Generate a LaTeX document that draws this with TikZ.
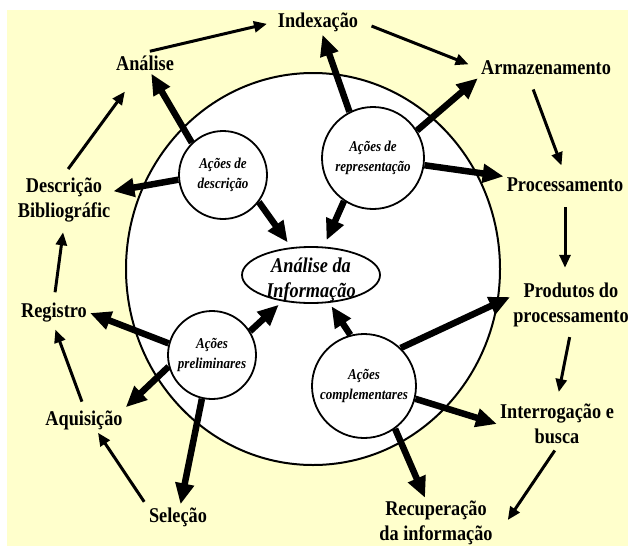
\documentclass[tikz,border=0pt]{standalone}
\usepackage{fontspec}
\setmainfont{Liberation Serif}
\newfontfamily\etiqfont[FakeStretch=0.87]{Liberation Serif}
\usetikzlibrary{arrows.meta,shapes.geometric}
\definecolor{fundo}{HTML}{FFFFCC}

\begin{document}
\begin{tikzpicture}[x=1pt,y=-1pt,
        etapa/.style={font=\etiqfont\bfseries\fontsize{21}{25}\selectfont, align=center, inner sep=3pt},
        acao/.style={circle, draw=black, line width=1.8pt, fill=white, minimum size=#1, inner sep=0pt,
                align=center, font=\etiqfont\bfseries\itshape\fontsize{15}{20}\selectfont},
        grossa/.style={line width=6.5pt, -{Triangle[length=21pt,width=18pt]}},
        fina/.style={line width=3pt, -{Triangle[length=13pt,width=11pt]}}]
        \useasboundingbox (0,0) rectangle (628,546);
        \fill[fundo] (7,10) rectangle (628,546);
        \draw[line width=2pt, fill=white] (313,269) ellipse [x radius=187, y radius=196];

        % etapas do ciclo
        \node[etapa] (index) at (318,22) {Indexação};
        \node[etapa] (analise) at (145,63) {Análise};
        \node[etapa] (armaz) at (546,68) {Armazenamento};
        \node[etapa] (process) at (565,185) {Processamento};
        \node[etapa] (produtos) at (571,305) {Produtos do\\processamento};
        \node[etapa] (interrog) at (557,424) {Interrogação e\\busca};
        \node[etapa] (recup) at (436,523) {Recuperação\\da informação};
        \node[etapa] (selecao) at (178,517) {Seleção};
        \node[etapa] (aquis) at (84,420) {Aquisição};
        \node[etapa] (registro) at (54,313) {Registro};
        \node[etapa] (descrbib) at (64,200) {Descrição\\Bibliográfic};

        % ações
        \node[acao=88pt] (descr) at (223,175) {Ações de\\descrição};
        \node[acao=102pt] (repres) at (373,158) {Ações de\\representação};
        \node[acao=88pt] (prelim) at (212,355) {Ações\\preliminares};
        \node[acao=104pt] (compl) at (364,386) {Ações\\complementares};
        \node[ellipse, draw=black, line width=1.8pt, fill=white, minimum width=138pt,
                minimum height=56pt, inner sep=0pt] (info) at (311,275) {};
        \node[font=\etiqfont\bfseries\itshape\fontsize{21}{25}\selectfont, align=center]
                (infotxt) at (311,280) {Análise da\\Informação};

        \draw[grossa] (descr.134) -- (analise);
        \draw[grossa] (descr.186) -- (descrbib);
        \draw[grossa, shorten >=6pt] (descr.-37) -- (info);
        \draw[grossa] (repres.117) -- (index);
        \draw[grossa] (repres.32) -- (armaz.south west);
        \draw[grossa] (repres.-8) -- (process);
        \draw[grossa, shorten >=7pt] (repres.236) -- (info);
        \draw[grossa] (prelim.165) -- (registro.east);
        \draw[grossa] (prelim.195) -- (aquis.north east);
        \draw[grossa] (prelim.257) -- (selecao);
        \draw[grossa, shorten >=5pt] (prelim.32) -- (info);
        \draw[grossa] (compl.46) -- ([yshift=8pt]produtos.west);
        \draw[grossa] (compl.-14) -- (interrog.west);
        \draw[grossa] (compl.-54) -- (recup);
        \draw[grossa, shorten >=4pt] (compl.105) -- (info);

        % ciclo
        \draw[fina, shorten <=5pt, shorten >=8pt] (analise.north) -- (index.west);
        \draw[fina, shorten <=11pt, shorten >=10pt] (index.east) -- (armaz.west);
        \draw[fina, shorten <=12pt, shorten >=10pt] ([xshift=-17pt]armaz.south) -- (process.north);
        \draw[fina, shorten <=12pt, shorten >=12pt] (process.south) -- (process.south |- produtos.north);
        \draw[fina, shorten <=7pt, shorten >=9pt] (produtos.south) -- (interrog.north);
        \draw[fina, shorten <=4pt] (interrog.south) -- ([xshift=12pt,yshift=3pt]recup.east);
        \draw[fina, shorten <=3pt] (selecao.north west) -- ([xshift=14pt]aquis.south);
        \draw[fina, shorten <=6pt, shorten >=4pt] (aquis.north) -- (registro.south);
        \draw[fina, shorten <=8pt, shorten >=7pt] (registro.north) -- (descrbib.south);
        \draw[fina, shorten <=7pt] (descrbib.north) -- ([xshift=12pt,yshift=-18pt]analise.south west);
\end{tikzpicture}
\end{document}
